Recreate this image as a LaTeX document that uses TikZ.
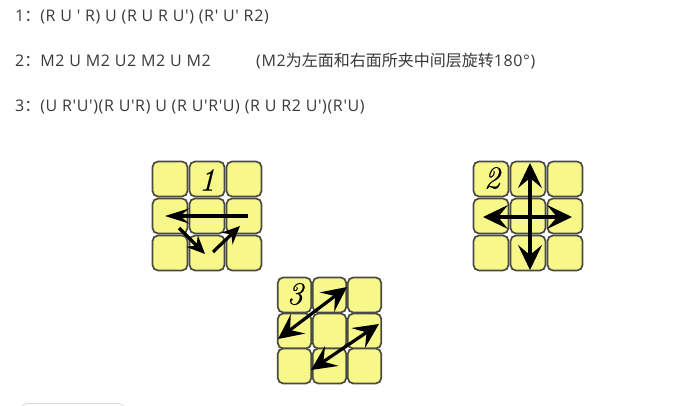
\documentclass[tikz,border=0pt]{standalone}
\usepackage{fontspec}
\newfontfamily\latfont[LetterSpace=4]{Open Sans}
\newfontfamily\cjkfont{Noto Sans CJK SC}
\newfontfamily\numfont[ItalicFeatures={RawFeature={embolden=0.5}}]{Latin Modern Roman}
\usetikzlibrary{arrows.meta}
\definecolor{tilefill}{HTML}{F8F88A}
\definecolor{tileedge}{HTML}{4A4A45}
\definecolor{txt}{HTML}{3A3A3A}
\tikzset{
  x=1pt,y=-1pt,
  tile/.style={draw=tileedge,line width=1.7pt,fill=tilefill,rounded corners=5.5pt,minimum width=35pt,minimum height=35pt,inner sep=0pt,outer sep=0pt},
  facetile/.style={tile,minimum width=33.5pt},
  line/.style={anchor=west,inner sep=0pt,text=txt,font=\latfont\fontsize{16}{18}\selectfont},
  facenum/.style={inner sep=0pt,font=\numfont\itshape\fontsize{32}{32}\selectfont},
  bigarrow/.style={line width=3.2pt,black,-{Stealth[length=24pt,width=15pt,inset=9pt]}},
  bothway/.style={line width=3.2pt,black,{Stealth[length=25pt,width=24pt,inset=10pt]}-{Stealth[length=25pt,width=24pt,inset=10pt]}},
  smallarrow/.style={line width=3.2pt,black,-{Stealth[length=18pt,width=16pt,inset=6pt]}},
}
\begin{document}
\begin{tikzpicture}
\useasboundingbox (0,0) rectangle (684,406);
\fill[white] (0,0) rectangle (684,406);
\node[line] (l1) at (15,17) {1{\cjkfont ：}(R U ' R) U (R U R U') (R' U' R2)};
\node[line] (l2) at (15,61) {2{\cjkfont ：}M2 U M2 U2 M2 U M2};
\node[line] (l2b) at (256,61) {(M2{\cjkfont 为左面和右面所夹中间层旋转}180°)};
\node[line] (l3) at (15,106.5) {3{\cjkfont ：}(U R'U')(R U'R) U (R U'R'U) (R U R2 U')(R'U)};
% face 1
\foreach \c/\x in {a/170,b/207,c/244}\foreach \r/\y in {a/179,b/216,c/253}
  \node[tile] (p\c\r) at (\x,\y) {};
\node[facenum] (n1) at (207,180) {1};
\coordinate (h1s) at (248,216); \coordinate (h1e) at (165,216);
\coordinate (d1s) at (179,228); \coordinate (d1e) at (205,254);
\coordinate (d2s) at (213,252); \coordinate (d2e) at (240,226);
\draw[bigarrow] (h1s) -- (h1e);
\draw[smallarrow] (d1s) -- (d1e);
\draw[smallarrow] (d2s) -- (d2e);
% face 2
\foreach \c/\x in {a/491,b/528,c/565}\foreach \r/\y in {a/179,b/216,c/253}
  \node[tile] (q\c\r) at (\x,\y) {};
\node[facenum] (n2) at (492,178) {2};
\coordinate (v2s) at (530,163); \coordinate (v2e) at (530,270);
\coordinate (h2s) at (483,217); \coordinate (h2e) at (572,217);
\draw[bothway] (v2s) -- (v2e);
\draw[bothway] (h2s) -- (h2e);
% face 3
\foreach \c/\x in {a/294.5,b/329.5,c/364.5}\foreach \r/\y in {a/295,b/331,c/366}
  \node[facetile] (s\c\r) at (\x,\y) {};
\node[facenum] (n3) at (295,294) {3};
\coordinate (a3s) at (278,339); \coordinate (a3e) at (347,287);
\coordinate (b3s) at (311,370); \coordinate (b3e) at (379,324);
\draw[bothway] (a3s) -- (a3e);
\draw[bothway] (b3s) -- (b3e);
% partly visible box at the bottom edge
\draw[draw=black!15,line width=0.8pt,rounded corners=8pt] (20,420) rectangle (126,403.5);
\end{tikzpicture}
\end{document}
